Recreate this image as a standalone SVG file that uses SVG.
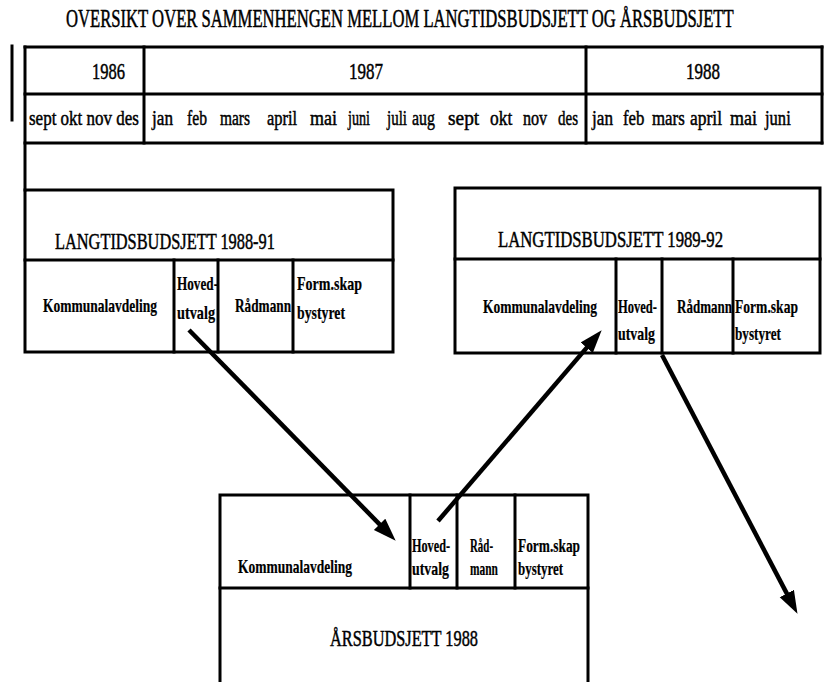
<svg xmlns="http://www.w3.org/2000/svg" width="824" height="682" viewBox="0 0 824 682">
<style>
.ln{stroke:#000;stroke-width:3;fill:none;stroke-linecap:square}
.t{font-family:"Liberation Serif","Times New Roman",serif;fill:#000;stroke:#000;stroke-width:0.5}
.ttl{font-size:25px}
.big{font-size:24px}
.row{font-size:22px}
.sm{font-size:18px;font-weight:bold;stroke-width:0.2}
.arr{stroke:#000;stroke-width:4.5;fill:none}
</style>
<defs>
<marker id="ah" markerUnits="userSpaceOnUse" markerWidth="24" markerHeight="18" refX="14" refY="8" orient="auto">
<path d="M0,0 L23,8 L0,16 Z" fill="#000"/>
</marker>
</defs>
<rect width="824" height="682" fill="#fff"/>
<text class="t ttl" transform="translate(66,27) scale(0.663,1)" textLength="1007" lengthAdjust="spacingAndGlyphs">OVERSIKT OVER SAMMENHENGEN MELLOM LANGTIDSBUDSJETT OG ÅRSBUDSJETT</text>
<g id="timeline">
<line class="ln" x1="12" y1="46" x2="12" y2="120"/>
<line class="ln" x1="25" y1="47" x2="822" y2="47"/>
<line class="ln" x1="25" y1="94" x2="822" y2="94"/>
<line class="ln" x1="25" y1="143" x2="822" y2="143"/>
<line class="ln" x1="25" y1="47" x2="25" y2="190"/>
<line class="ln" x1="822" y1="47" x2="822" y2="143"/>
<line class="ln" x1="144" y1="47" x2="144" y2="143"/>
<line class="ln" x1="586" y1="47" x2="586" y2="143"/>
<text class="t big" transform="translate(92,79) scale(0.685,1)" textLength="48.2" lengthAdjust="spacingAndGlyphs">1986</text>
<text class="t big" transform="translate(349,79) scale(0.685,1)" textLength="49.6" lengthAdjust="spacingAndGlyphs">1987</text>
<text class="t big" transform="translate(686,79) scale(0.685,1)" textLength="49.6" lengthAdjust="spacingAndGlyphs">1988</text>
<g class="t row">
<text transform="translate(29,125) scale(0.78,1)" textLength="141" lengthAdjust="spacingAndGlyphs">sept okt nov des</text>
<text transform="translate(152,125) scale(0.78,1)" textLength="26.9" lengthAdjust="spacingAndGlyphs">jan</text>
<text transform="translate(187,125) scale(0.78,1)" textLength="25.6" lengthAdjust="spacingAndGlyphs">feb</text>
<text transform="translate(220,125) scale(0.78,1)" textLength="38.5" lengthAdjust="spacingAndGlyphs">mars</text>
<text transform="translate(267,125) scale(0.78,1)" textLength="38.5" lengthAdjust="spacingAndGlyphs">april</text>
<text transform="translate(310,125) scale(0.78,1)" textLength="34.6" lengthAdjust="spacingAndGlyphs">mai</text>
<text transform="translate(348,125) scale(0.78,1)" textLength="28.2" lengthAdjust="spacingAndGlyphs">juni</text>
<text transform="translate(387,125) scale(0.78,1)" textLength="25.6" lengthAdjust="spacingAndGlyphs">juli</text>
<text transform="translate(412,125) scale(0.78,1)" textLength="29.5" lengthAdjust="spacingAndGlyphs">aug</text>
<text transform="translate(448,125) scale(0.78,1)" textLength="40" lengthAdjust="spacingAndGlyphs">sept</text>
<text transform="translate(490,125) scale(0.78,1)" textLength="28.5" lengthAdjust="spacingAndGlyphs">okt</text>
<text transform="translate(523,125) scale(0.78,1)" textLength="31" lengthAdjust="spacingAndGlyphs">nov</text>
<text transform="translate(558,125) scale(0.78,1)" textLength="25.6" lengthAdjust="spacingAndGlyphs">des</text>
<text transform="translate(592,125) scale(0.78,1)" textLength="26.9" lengthAdjust="spacingAndGlyphs">jan</text>
<text transform="translate(623,125) scale(0.78,1)" textLength="27.5" lengthAdjust="spacingAndGlyphs">feb</text>
<text transform="translate(652,125) scale(0.78,1)" textLength="42" lengthAdjust="spacingAndGlyphs">mars</text>
<text transform="translate(690,125) scale(0.78,1)" textLength="41" lengthAdjust="spacingAndGlyphs">april</text>
<text transform="translate(730,125) scale(0.78,1)" textLength="34.6" lengthAdjust="spacingAndGlyphs">mai</text>
<text transform="translate(765,125) scale(0.78,1)" textLength="33" lengthAdjust="spacingAndGlyphs">juni</text>
</g>
</g>
<g id="langtid-1988-91">
<rect class="ln" x="25" y="190" width="368" height="162"/>
<line class="ln" x1="25" y1="260" x2="393" y2="260"/>
<line class="ln" x1="174" y1="260" x2="174" y2="352"/>
<line class="ln" x1="218" y1="260" x2="218" y2="352"/>
<line class="ln" x1="293" y1="260" x2="293" y2="352"/>
<text class="t big" transform="translate(55,249) scale(0.685,1)" textLength="321" lengthAdjust="spacingAndGlyphs">LANGTIDSBUDSJETT 1988-91</text>
<text class="t sm" transform="translate(43,312) scale(0.75,1)" textLength="152" lengthAdjust="spacingAndGlyphs">Kommunalavdeling</text>
<text class="t sm" transform="translate(177,290) scale(0.75,1)" textLength="54.7" lengthAdjust="spacingAndGlyphs">Hoved-</text>
<text class="t sm" transform="translate(177,319) scale(0.75,1)" textLength="50.7" lengthAdjust="spacingAndGlyphs">utvalg</text>
<text class="t sm" transform="translate(235,312) scale(0.75,1)" textLength="74.7" lengthAdjust="spacingAndGlyphs">Rådmann</text>
<text class="t sm" transform="translate(297,290) scale(0.75,1)" textLength="86.7" lengthAdjust="spacingAndGlyphs">Form.skap</text>
<text class="t sm" transform="translate(297,319) scale(0.75,1)" textLength="64" lengthAdjust="spacingAndGlyphs">bystyret</text>
</g>
<g id="langtid-1989-92">
<rect class="ln" x="455" y="188" width="365" height="165"/>
<line class="ln" x1="455" y1="259" x2="820" y2="259"/>
<line class="ln" x1="616" y1="259" x2="616" y2="353"/>
<line class="ln" x1="662" y1="259" x2="662" y2="353"/>
<line class="ln" x1="733" y1="259" x2="733" y2="353"/>
<text class="t big" transform="translate(498,247) scale(0.685,1)" textLength="328.5" lengthAdjust="spacingAndGlyphs">LANGTIDSBUDSJETT 1989-92</text>
<text class="t sm" transform="translate(483,313) scale(0.75,1)" textLength="152" lengthAdjust="spacingAndGlyphs">Kommunalavdeling</text>
<text class="t sm" transform="translate(618,313) scale(0.75,1)" textLength="52" lengthAdjust="spacingAndGlyphs">Hoved-</text>
<text class="t sm" transform="translate(618,340) scale(0.75,1)" textLength="49.3" lengthAdjust="spacingAndGlyphs">utvalg</text>
<text class="t sm" transform="translate(677,313) scale(0.75,1)" textLength="73.3" lengthAdjust="spacingAndGlyphs">Rådmann</text>
<text class="t sm" transform="translate(735,313) scale(0.75,1)" textLength="84" lengthAdjust="spacingAndGlyphs">Form.skap</text>
<text class="t sm" transform="translate(735,340) scale(0.75,1)" textLength="61.3" lengthAdjust="spacingAndGlyphs">bystyret</text>
</g>
<g id="arsbudsjett-1988">
<path class="ln" d="M220,684 L220,495 L588,495 L588,684"/>
<line class="ln" x1="220" y1="588" x2="588" y2="588"/>
<line class="ln" x1="410" y1="495" x2="410" y2="588"/>
<line class="ln" x1="457" y1="495" x2="457" y2="588"/>
<line class="ln" x1="515" y1="495" x2="515" y2="588"/>
<text class="t sm" transform="translate(238,573) scale(0.75,1)" textLength="152" lengthAdjust="spacingAndGlyphs">Kommunalavdeling</text>
<text class="t sm" transform="translate(412,552) scale(0.75,1)" textLength="50.7" lengthAdjust="spacingAndGlyphs">Hoved-</text>
<text class="t sm" transform="translate(412,575) scale(0.75,1)" textLength="49.3" lengthAdjust="spacingAndGlyphs">utvalg</text>
<text class="t sm" transform="translate(470,552) scale(0.75,1)" textLength="30.7" lengthAdjust="spacingAndGlyphs">Råd-</text>
<text class="t sm" transform="translate(470,575) scale(0.75,1)" textLength="37.3" lengthAdjust="spacingAndGlyphs">mann</text>
<text class="t sm" transform="translate(518,552) scale(0.75,1)" textLength="82.7" lengthAdjust="spacingAndGlyphs">Form.skap</text>
<text class="t sm" transform="translate(518,575) scale(0.75,1)" textLength="60" lengthAdjust="spacingAndGlyphs">bystyret</text>
<text class="t big" transform="translate(330,646) scale(0.685,1)" textLength="216" lengthAdjust="spacingAndGlyphs">ÅRSBUDSJETT 1988</text>
</g>
<g id="connectors">
<line class="arr" x1="189" y1="330" x2="389.4" y2="534.3" marker-end="url(#ah)"/>
<line class="arr" x1="438" y1="521" x2="595.8" y2="337.1" marker-end="url(#ah)"/>
<line class="arr" x1="662" y1="355" x2="793.3" y2="605.9" marker-end="url(#ah)"/>
</g>
</svg>
